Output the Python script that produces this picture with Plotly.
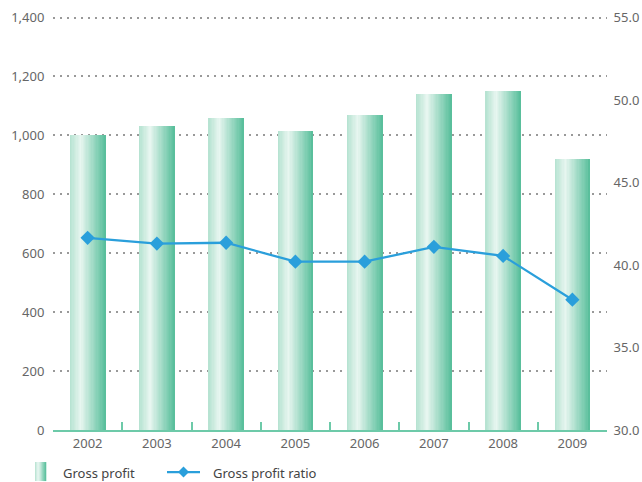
import plotly.graph_objects as go

years = ["2002", "2003", "2004", "2005", "2006", "2007", "2008", "2009"]
gross_profit = [1000, 1033, 1060, 1016, 1070, 1142, 1152, 921]
gross_profit_ratio = [41.65, 41.3, 41.35, 40.2, 40.2, 41.1, 40.55, 37.9]

left_ticks = [0, 200, 400, 600, 800, 1000, 1200, 1400]
right_ticks = [30, 35, 40, 45, 50, 55]

W, H = 642, 482
YMAX = 1412
L, R, B = 53, 35, 52
T = (H - B) - 412 * YMAX / 1400
PW, PH = W - L - R, H - T - B

stops = [(0.0, (180, 226, 208)), (0.3, (232, 246, 240)), (1.0, (86, 190, 154))]


def grad(t):
    for (t0, c0), (t1, c1) in zip(stops[:-1], stops[1:]):
        if t <= t1:
            f = (t - t0) / (t1 - t0)
            return "rgb(%d,%d,%d)" % tuple(round(a + (b - a) * f) for a, b in zip(c0, c1))
    return "rgb(%d,%d,%d)" % stops[-1][1]


fig = go.Figure()
N = 28
BW = 0.51
sw = BW / N
for i in range(N):
    fig.add_trace(go.Bar(
        x=years, y=gross_profit, width=sw * 1.6 if i < N - 1 else sw,
        offset=-BW / 2 + i * sw, marker=dict(color=grad((i + 0.5) / N), line=dict(width=0)),
        showlegend=False, hoverinfo="skip"))

fig.add_trace(go.Scatter(
    x=years, y=gross_profit_ratio, yaxis="y2", mode="lines+markers",
    line=dict(color="#2a9fdb", width=2.3),
    marker=dict(symbol="diamond", size=11, color="#2a9fdb"),
    showlegend=False))


def px(x):
    return (x - L) / PW


def py(y):
    return (H - B - y) / PH


shapes = []
n_s = 10
for i in range(n_s):
    x0 = 35 + i * 11 / n_s
    shapes.append(dict(type="rect", xref="paper", yref="paper",
                       x0=px(x0), x1=px(x0 + 11 / n_s + 0.3), y0=py(481), y1=py(462),
                       fillcolor=grad((i + 0.5) / n_s), line=dict(width=0), layer="above"))
shapes.append(dict(type="line", xref="paper", yref="paper", x0=px(167), x1=px(200),
                   y0=py(472), y1=py(472), line=dict(color="#2a9fdb", width=2.3)))
cx, cy, d = 183.5, 472, 5.5
shapes.append(dict(type="path", xref="paper", yref="paper",
                   path="M %f,%f L %f,%f L %f,%f L %f,%f Z" % (
                       px(cx - d), py(cy), px(cx), py(cy - d), px(cx + d), py(cy), px(cx), py(cy + d)),
                   fillcolor="#2a9fdb", line=dict(width=0)))

annotations = [
    dict(text="Gross profit", xref="paper", yref="paper", x=px(61), y=py(473),
         xanchor="left", yanchor="middle", showarrow=False,
         font=dict(size=13, color="#444")),
    dict(text="Gross profit ratio", xref="paper", yref="paper", x=px(211), y=py(473),
         xanchor="left", yanchor="middle", showarrow=False,
         font=dict(size=13, color="#444")),
]

fig.update_layout(
    width=W, height=H, margin=dict(l=L, r=R, t=T, b=B, autoexpand=False),
    paper_bgcolor="white", plot_bgcolor="white",
    barmode="overlay", bargap=0,
    font=dict(family="Noto Sans, Open Sans, sans-serif", size=13, color="#666"),
    xaxis=dict(type="category", range=[-0.5, 7.5], showgrid=False,
               showline=True, linecolor="#6dcaa9", linewidth=2,
               ticks="inside", tickson="boundaries", ticklen=8, tickwidth=1.5,
               tickcolor="#6dcaa9", tickfont=dict(size=13, color="#666")),
    yaxis=dict(range=[0, YMAX], tickvals=left_ticks, tickformat=",",
               showgrid=True, gridcolor="#999", gridwidth=1.5, griddash="2px,5px",
               zeroline=False, showline=False, ticks="outside", ticklen=5,
               tickcolor="rgba(0,0,0,0)", tickfont=dict(size=13, color="#666")),
    yaxis2=dict(range=[30, 30 + 25 * YMAX / 1400], tickvals=right_ticks, tickformat=".1f",
                overlaying="y", side="right", showgrid=False, zeroline=False,
                showline=False, ticks="outside", ticklen=3, tickcolor="rgba(0,0,0,0)",
                tickfont=dict(size=13, color="#666")),
    shapes=shapes, annotations=annotations,
)

fig.write_html("out.html", config={"responsive": False, "displayModeBar": False},
               post_script="document.body.style.margin='0';document.body.style.overflow='hidden';")
